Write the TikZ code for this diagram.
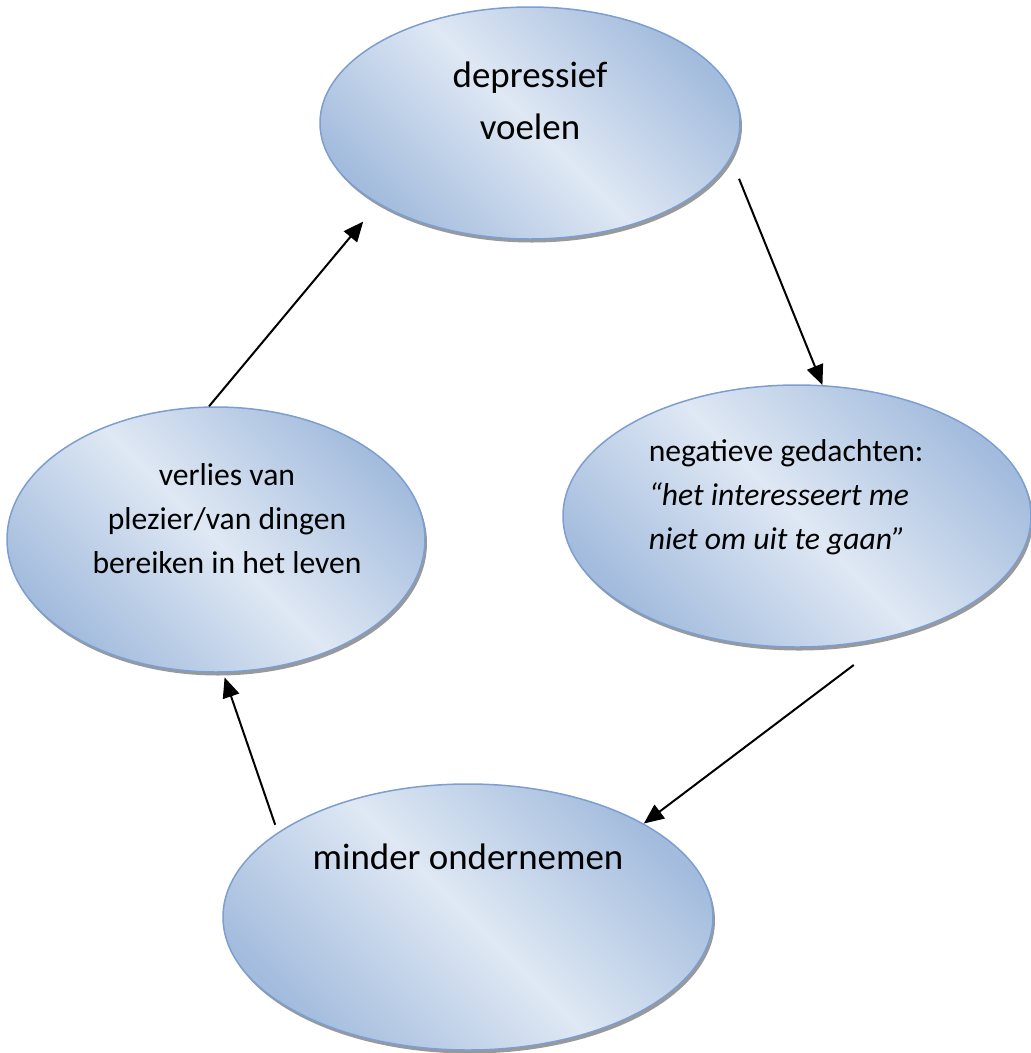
\documentclass[tikz,border=0pt]{standalone}
\usepackage{fontspec}
\setmainfont{Carlito}
\usepackage{tikz}
\usetikzlibrary{shapes.geometric,shadows,arrows.meta}
\definecolor{bubbledark}{RGB}{163,188,221}
\definecolor{bubblelight}{RGB}{223,232,244}
\definecolor{bubbleline}{RGB}{124,158,208}
\tikzset{
	bubble/.style={ellipse, draw=bubbleline, line width=0.3mm, inner sep=0pt,
		top color=bubbledark, bottom color=bubbledark, middle color=bubblelight, shading angle=-45,
		general shadow={shadow xshift=0.04cm, shadow yshift=-0.07cm, fill=black!40}},
	loop arrow/.style={line width=0.4mm, -{Triangle[length=0.4cm,width=0.34cm]}}
}

\begin{document}
\begin{tikzpicture}
			%%%%% START %%%%%
			\useasboundingbox (0, 0) rectangle (20.62, -21.06);
			
			\node[bubble, minimum width=8.4cm, minimum height=4.64cm] (feel) at (10.6, -2.46) {};
			\node[bubble, minimum width=9.36cm, minimum height=5.24cm] (thought) at (15.94, -10.32) {};
			\node[bubble, minimum width=8.36cm, minimum height=5.3cm] (loss) at (4.32, -10.79) {};
			\node[bubble, minimum width=9.8cm, minimum height=5.32cm] (less) at (9.36, -18.34) {};
			
			\node[font=\fontsize{21}{29.5}\selectfont, align=center] (feeltxt) at ([yshift=0.44cm]feel.center) {depressief\\voelen};
			\node[font=\fontsize{18}{25}\selectfont, align=left] (thoughttxt) at ([xshift=-0.22cm, yshift=0.38cm]thought.center) {negatieve gedachten:\\\textit{“het interesseert me}\\\textit{niet om uit te gaan”}};
			\node[font=\fontsize{18}{25}\selectfont, align=center] (losstxt) at ([xshift=0.22cm, yshift=0.41cm]loss.center) {verlies van\\plezier/van dingen\\bereiken in het leven};
			\node[font=\fontsize{21}{29.5}\selectfont] (lesstxt) at ([yshift=1.2cm]less.center) {minder ondernemen};
			
			\draw[loop arrow, shorten >=0.46cm] (loss.93) -- (feel.208);
			\draw[loop arrow, shorten <=0.44cm] (feel.350) -- (thought.79);
			\draw[loop arrow, shorten <=0.94cm] (thought.308) -- (less.28);
			\draw[loop arrow, shorten <=0.16cm, shorten >=0.1cm] (less.156) -- (loss.273);
			
			%%%%% END %%%%%
\end{tikzpicture}
\end{document}
